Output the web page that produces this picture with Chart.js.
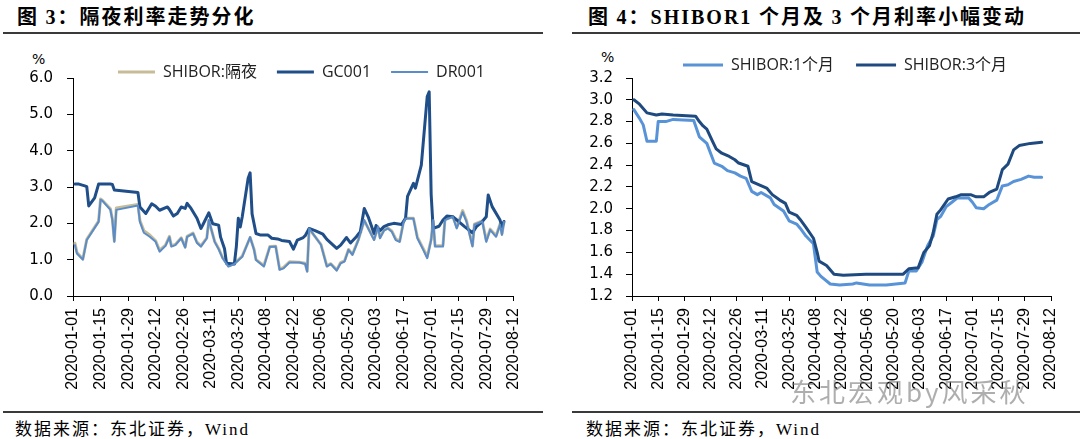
<!DOCTYPE html>
<html>
<head>
<meta charset="utf-8">
<script src="https://cdn.jsdelivr.net/npm/chart.js@4.4.1/dist/chart.umd.min.js"></script>
<style>
html,body{margin:0;padding:0;background:#fff;}
body{width:1080px;height:439px;position:relative;overflow:hidden;font-family:"Noto Sans CJK SC",sans-serif;color:#000;}
.title{position:absolute;top:5px;font-size:20px;line-height:22px;font-weight:bold;white-space:nowrap;letter-spacing:2px;}
.num{font-family:"Liberation Serif",serif;font-weight:bold;}
.rule{position:absolute;height:2px;background:#3a3a3a;}
.src{position:absolute;top:418px;font-size:17px;line-height:20px;white-space:nowrap;letter-spacing:2px;}
.src .w{font-family:"Liberation Serif",serif;}
.unit{position:absolute;font-family:"DejaVu Sans",sans-serif;font-size:14px;line-height:16px;}
.box{position:absolute;top:40px;width:540px;height:370px;}
.wm{position:absolute;left:790px;top:376px;font-size:26px;line-height:30px;letter-spacing:3px;color:rgba(120,120,120,0.6);white-space:nowrap;}
</style>
</head>
<body>
<div class="title" style="left:17px">图 <span class="num">3</span>：隔夜利率走势分化</div>
<div class="title" style="left:588px">图 <span class="num">4</span>：<span class="num">SHIBOR1</span> 个月及 <span class="num">3</span> 个月利率小幅变动</div>
<div class="rule" style="left:3px;width:540px;top:32px"></div>
<div class="rule" style="left:572px;width:508px;top:32px"></div>
<div class="rule" style="left:3px;width:540px;top:411px"></div>
<div class="rule" style="left:572px;width:508px;top:411px"></div>
<div class="unit" style="left:32px;top:51px">%</div>
<div class="unit" style="left:601px;top:49px">%</div>
<div class="box" style="left:0"><canvas id="c1" width="540" height="370"></canvas></div>
<div class="box" style="left:540px"><canvas id="c2" width="540" height="370"></canvas></div>
<div class="src" style="left:15px">数据来源：东北证券，<span class="w">Wind</span></div>
<div class="src" style="left:586px">数据来源：东北证券，<span class="w">Wind</span></div>
<div class="wm">东北宏观by风采秋</div>
<script>
// ---------- data ----------
const xTickLabels = ['2020-01-01','2020-01-15','2020-01-29','2020-02-12','2020-02-26','2020-03-11','2020-03-25','2020-04-08','2020-04-22','2020-05-06','2020-05-20','2020-06-03','2020-06-17','2020-07-01','2020-07-15','2020-07-29','2020-08-12'];
const yTicksLeft = [0,1,2,3,4,5,6];
const yTicksRight = [1.2,1.4,1.6,1.8,2.0,2.2,2.4,2.6,2.8,3.0,3.2];

const seriesNamesLeft = ['SHIBOR:隔夜','GC001','DR001'];
const seriesNamesRight = ['SHIBOR:1个月','SHIBOR:3个月'];

// overnight (SHIBOR O/N and DR001 share dates)
const overnightDates = ['2020-01-02','2020-01-03','2020-01-06','2020-01-08','2020-01-14','2020-01-15','2020-01-16','2020-01-20','2020-01-21','2020-01-22','2020-01-23','2020-02-03','2020-02-04','2020-02-06','2020-02-09','2020-02-12','2020-02-14','2020-02-17','2020-02-19','2020-02-20','2020-02-22','2020-02-25','2020-02-27','2020-02-28','2020-03-02','2020-03-04','2020-03-06','2020-03-09','2020-03-10','2020-03-13','2020-03-15','2020-03-17','2020-03-20','2020-03-23','2020-03-27','2020-03-31','2020-04-02','2020-04-03','2020-04-07','2020-04-10','2020-04-13','2020-04-15','2020-04-17','2020-04-20','2020-04-25','2020-04-28','2020-04-29','2020-04-30','2020-05-06','2020-05-09','2020-05-11','2020-05-14','2020-05-16','2020-05-18','2020-05-20','2020-05-22','2020-05-25','2020-05-28','2020-05-30','2020-06-02','2020-06-04','2020-06-05','2020-06-07','2020-06-09','2020-06-11','2020-06-13','2020-06-15','2020-06-17','2020-06-18','2020-06-22','2020-06-24','2020-06-27','2020-06-29','2020-07-01','2020-07-02','2020-07-03','2020-07-07','2020-07-08','2020-07-12','2020-07-14','2020-07-17','2020-07-19','2020-07-22','2020-07-23','2020-07-27','2020-07-29','2020-07-31','2020-08-03','2020-08-05','2020-08-06','2020-08-07'];
const dr001Values = [1.40,1.17,1.00,1.54,2.04,2.65,2.62,2.37,2.09,1.49,2.37,2.49,2.04,1.74,1.63,1.49,1.22,1.38,1.62,1.36,1.40,1.59,1.33,1.63,1.72,1.46,1.36,1.59,2.09,1.49,1.29,1.04,0.81,0.88,1.08,1.62,1.27,0.99,0.81,1.35,1.36,0.72,0.76,0.92,0.92,0.88,0.67,1.86,1.41,0.81,0.88,0.70,0.90,0.95,1.27,1.13,1.54,2.09,1.86,1.54,1.91,1.59,1.80,1.86,1.77,1.54,1.49,2.04,2.13,2.13,1.59,1.27,1.04,1.54,2.09,1.36,1.36,2.09,2.18,1.86,2.31,2.04,1.36,1.96,2.05,1.49,1.82,1.63,1.96,1.68,2.04];
const shiborONValues = [1.45,1.20,1.02,1.56,2.06,2.67,2.63,2.40,2.12,1.52,2.42,2.52,2.08,1.80,1.68,1.52,1.26,1.40,1.64,1.38,1.42,1.60,1.35,1.64,1.73,1.48,1.38,1.60,2.08,1.50,1.31,1.06,0.83,0.89,1.10,1.61,1.29,1.00,0.84,1.36,1.37,0.74,0.79,0.94,0.93,0.90,0.69,1.85,1.42,0.83,0.89,0.72,0.92,0.97,1.28,1.15,1.55,2.07,1.87,1.56,1.90,1.62,1.81,1.87,1.79,1.57,1.51,2.05,2.14,2.14,1.62,1.30,1.08,1.56,2.08,1.38,1.39,2.10,2.19,1.89,2.35,2.07,1.39,1.98,2.07,1.53,1.84,1.66,1.98,1.71,2.03];

const gc001Dates = ['2020-01-02','2020-01-04','2020-01-07','2020-01-08','2020-01-09','2020-01-12','2020-01-14','2020-01-20','2020-01-21','2020-01-22','2020-02-03','2020-02-04','2020-02-07','2020-02-10','2020-02-12','2020-02-14','2020-02-18','2020-02-19','2020-02-21','2020-02-23','2020-02-25','2020-02-27','2020-02-28','2020-03-01','2020-03-04','2020-03-06','2020-03-07','2020-03-10','2020-03-12','2020-03-15','2020-03-16','2020-03-18','2020-03-19','2020-03-23','2020-03-24','2020-03-25','2020-03-26','2020-03-27','2020-03-30','2020-03-31','2020-04-01','2020-04-03','2020-04-05','2020-04-09','2020-04-11','2020-04-14','2020-04-16','2020-04-20','2020-04-22','2020-04-24','2020-04-27','2020-04-28','2020-04-30','2020-05-03','2020-05-07','2020-05-09','2020-05-14','2020-05-16','2020-05-19','2020-05-21','2020-05-24','2020-05-26','2020-05-28','2020-05-30','2020-06-02','2020-06-03','2020-06-05','2020-06-07','2020-06-09','2020-06-12','2020-06-16','2020-06-18','2020-06-19','2020-06-22','2020-06-23','2020-06-26','2020-06-29','2020-06-30','2020-07-01','2020-07-02','2020-07-05','2020-07-07','2020-07-09','2020-07-12','2020-07-15','2020-07-18','2020-07-22','2020-07-24','2020-07-27','2020-07-29','2020-07-30','2020-08-01','2020-08-05','2020-08-06','2020-08-07'];
const gc001Values = [3.08,3.08,3.03,3.01,2.48,2.70,3.08,3.08,3.07,2.92,2.85,2.45,2.27,2.54,2.47,2.36,2.45,2.38,2.20,2.27,2.45,2.41,2.55,2.41,2.14,1.86,1.96,2.29,1.99,1.95,1.62,1.30,0.90,0.88,1.36,2.14,1.90,2.18,3.24,3.39,2.26,1.72,1.68,1.68,1.59,1.57,1.53,1.50,1.29,1.54,1.61,1.66,1.86,1.80,1.70,1.56,1.31,1.40,1.61,1.46,1.63,1.77,2.41,2.18,1.72,1.94,1.80,1.91,1.96,2.00,1.97,2.14,2.74,3.10,2.97,3.60,5.49,5.62,2.80,1.86,1.92,2.09,2.20,2.18,2.05,1.91,1.74,1.91,2.05,2.18,2.78,2.46,2.09,1.91,2.05];

const shibor1MDates = ['2020-01-02','2020-01-05','2020-01-07','2020-01-09','2020-01-14','2020-01-15','2020-01-19','2020-01-23','2020-02-03','2020-02-06','2020-02-10','2020-02-12','2020-02-14','2020-02-18','2020-02-21','2020-02-25','2020-02-28','2020-03-02','2020-03-05','2020-03-08','2020-03-10','2020-03-15','2020-03-17','2020-03-22','2020-03-25','2020-03-29','2020-03-31','2020-04-03','2020-04-07','2020-04-09','2020-04-11','2020-04-16','2020-04-21','2020-04-28','2020-04-30','2020-05-07','2020-05-16','2020-05-21','2020-05-26','2020-05-28','2020-06-01','2020-06-04','2020-06-07','2020-06-10','2020-06-12','2020-06-14','2020-06-17','2020-06-20','2020-06-23','2020-06-29','2020-07-01','2020-07-03','2020-07-07','2020-07-10','2020-07-14','2020-07-17','2020-07-20','2020-07-23','2020-07-27','2020-07-31','2020-08-03','2020-08-07'];
const shibor1MValues = [2.91,2.83,2.77,2.62,2.62,2.80,2.80,2.82,2.81,2.66,2.60,2.51,2.42,2.39,2.35,2.33,2.30,2.28,2.16,2.13,2.15,2.10,2.04,1.98,1.89,1.86,1.82,1.75,1.68,1.42,1.38,1.31,1.30,1.31,1.32,1.30,1.30,1.31,1.32,1.43,1.43,1.51,1.66,1.75,1.90,1.93,2.02,2.06,2.10,2.10,2.06,2.01,2.00,2.04,2.08,2.21,2.22,2.25,2.27,2.30,2.29,2.29];

const shibor3MDates = ['2020-01-02','2020-01-05','2020-01-09','2020-01-14','2020-01-17','2020-01-23','2020-02-04','2020-02-06','2020-02-08','2020-02-10','2020-02-13','2020-02-15','2020-02-18','2020-02-22','2020-02-25','2020-02-27','2020-03-03','2020-03-05','2020-03-09','2020-03-13','2020-03-16','2020-03-20','2020-03-23','2020-03-25','2020-03-29','2020-03-31','2020-04-03','2020-04-07','2020-04-09','2020-04-10','2020-04-14','2020-04-18','2020-04-23','2020-05-05','2020-05-25','2020-05-28','2020-06-02','2020-06-05','2020-06-08','2020-06-10','2020-06-12','2020-06-14','2020-06-18','2020-06-22','2020-06-25','2020-06-30','2020-07-03','2020-07-07','2020-07-10','2020-07-14','2020-07-17','2020-07-20','2020-07-23','2020-07-26','2020-08-01','2020-08-07'];
const shibor3MValues = [3.00,2.96,2.88,2.86,2.87,2.86,2.85,2.80,2.76,2.73,2.62,2.55,2.51,2.48,2.45,2.42,2.39,2.25,2.22,2.19,2.13,2.08,2.05,1.97,1.94,1.90,1.83,1.73,1.60,1.52,1.48,1.40,1.39,1.40,1.40,1.45,1.46,1.60,1.66,1.78,1.95,1.99,2.09,2.11,2.13,2.13,2.11,2.11,2.15,2.18,2.36,2.41,2.54,2.58,2.60,2.61];

// ---------- helpers ----------
const DAY = 86400000, BASE = Date.UTC(2020,0,1);
function dayOf(s){const p=s.split('-');return (Date.UTC(+p[0],+p[1]-1,+p[2])-BASE)/DAY;}
function dateOf(v){return new Date(BASE+Math.round(v)*DAY).toISOString().slice(0,10);}
function pts(dates, vals){return dates.map((d,i)=>({x:dayOf(d),y:vals[i]}));}

function legendPlacer(x0, yc){
  return {id:'legendPlacer', afterLayout(chart){
    const lg = chart.legend; const lo = chart.options.plugins.legend.labels;
    const fs = lo.font.size;
    lg.left = x0 - lo.padding; lg.right = chart.width; lg.width = lg.right - lg.left;
    lg.top = yc - lo.padding - fs/2; lg.bottom = chart.height; lg.height = lg.bottom - lg.top;
  }};
}

function makeChart(id, datasets, yTicks, cfg){
  const axisCommon = {
    grid:{display:true, drawOnChartArea:false, drawTicks:true, color:'#000', lineWidth:1},
    border:{display:true, color:'#000', width:1}
  };
  return new Chart(document.getElementById(id), {
    type:'line',
    data:{datasets},
    options:{
      responsive:false, animation:false, devicePixelRatio:1,
      layout:{padding:{left:0,right:cfg.padRight,top:0,bottom:0}},
      elements:{point:{radius:0}, line:{tension:0, borderCapStyle:'round', borderJoinStyle:'round'}},
      plugins:{
        tooltip:{enabled:false},
        legend:{display:true, position:'top', align:'start', maxHeight:38,
          labels:{usePointStyle:true, pointStyle:'line', pointStyleWidth:cfg.legendLine, padding:cfg.legendPad, color:'#222',
            font:{family:'"Open Sans","Noto Sans CJK SC",sans-serif', size:16},
            sort:(a,b)=>a.datasetIndex-b.datasetIndex}}
      },
      scales:{
        x:Object.assign({}, axisCommon, {
          type:'linear', min:dayOf(xTickLabels[0]), max:dayOf(xTickLabels[xTickLabels.length-1]),
          afterBuildTicks:(ax)=>{ax.ticks = xTickLabels.map(d=>({value:dayOf(d)}));},
          afterFit:(ax)=>{ax.height = 114;},
          grid:Object.assign({}, axisCommon.grid, {tickLength:5}),
          ticks:{autoSkip:false, minRotation:90, maxRotation:90, padding:7, color:'#000',
            font:{family:'"Liberation Sans",Arial,sans-serif', size:16},
            callback:(v)=>dateOf(v)}
        }),
        y:Object.assign({}, axisCommon, {
          type:'linear', min:yTicks[0], max:yTicks[yTicks.length-1],
          afterBuildTicks:(ax)=>{ax.ticks = yTicks.map(v=>({value:v}));},
          afterFit:(ax)=>{ax.width = cfg.yWidth;},
          grid:Object.assign({}, axisCommon.grid, {tickLength:6}),
          ticks:{padding:cfg.yPad, color:'#000', font:{family:'"DejaVu Sans",sans-serif', size:15},
            callback:(v)=>Number(v).toFixed(1)}
        })
      }
    },
    plugins:[legendPlacer(cfg.legendX, cfg.legendY)]
  });
}

makeChart('c1', [
  {label:seriesNamesLeft[0], data:pts(overnightDates, shiborONValues), borderColor:'#c6bd98', backgroundColor:'#c6bd98', borderWidth:3, order:3},
  {label:seriesNamesLeft[1], data:pts(gc001Dates, gc001Values), borderColor:'#1f4e89', backgroundColor:'#1f4e89', borderWidth:3, order:2},
  {label:seriesNamesLeft[2], data:pts(overnightDates, dr001Values), borderColor:'#5b8cca', backgroundColor:'#5b8cca', borderWidth:2, order:1}
], yTicksLeft, {padRight:18, yWidth:73, yPad:14, legendX:118, legendY:32, legendLine:37, legendPad:20});

makeChart('c2', [
  {label:seriesNamesRight[0], data:pts(shibor1MDates, shibor1MValues), borderColor:'#5893d8', backgroundColor:'#5893d8', borderWidth:3, order:2},
  {label:seriesNamesRight[1], data:pts(shibor3MDates, shibor3MValues), borderColor:'#1f4a80', backgroundColor:'#1f4a80', borderWidth:3, order:1}
], yTicksRight, {padRight:29, yWidth:92, yPad:13, legendX:143, legendY:25, legendLine:40, legendPad:22});
</script>
</body>
</html>
